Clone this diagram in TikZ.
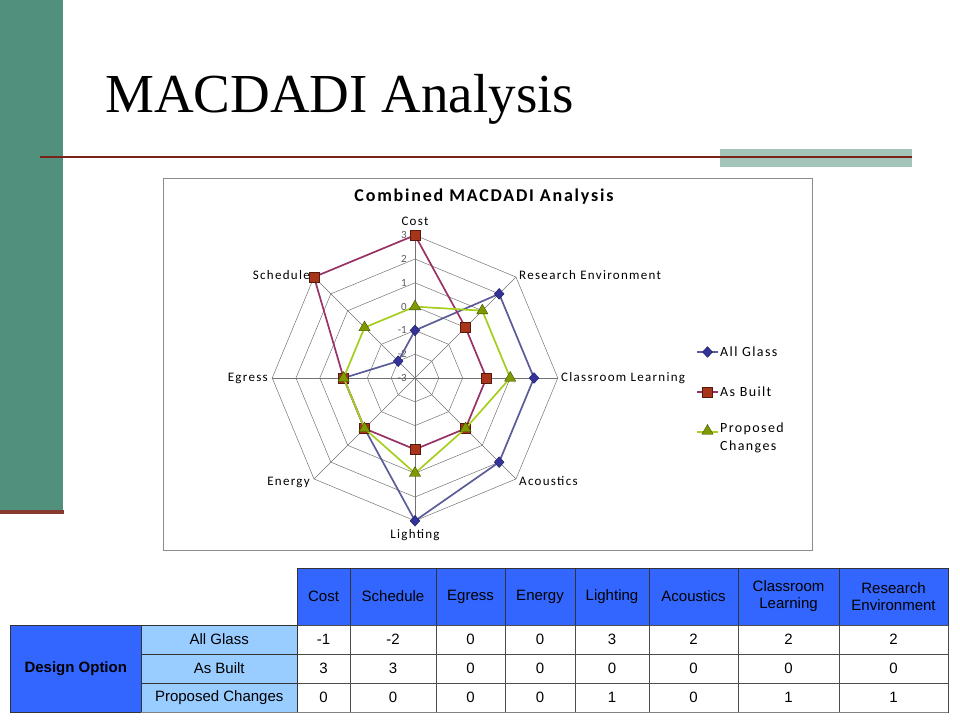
\documentclass[tikz,border=0pt]{standalone}
\usepackage{fontspec}
\setmainfont{Liberation Serif}
\newfontfamily\chartfont[LetterSpace=10]{Carlito}
\newfontfamily\tickfont{Carlito}
\newfontfamily\tablefont{Liberation Sans}
\usetikzlibrary{shapes.geometric}
\definecolor{barColor}{HTML}{52907E}
\definecolor{ruleColor}{HTML}{7B2318}
\definecolor{tabColor}{HTML}{A3C4B8}
\definecolor{headColor}{HTML}{3366FF}
\definecolor{rowColor}{HTML}{99CCFF}
\definecolor{glassLine}{HTML}{5C5C99}
\definecolor{glassMark}{HTML}{333399}
\definecolor{builtLine}{HTML}{993366}
\definecolor{builtMark}{HTML}{A8341A}
\definecolor{changeLine}{HTML}{A6CE1E}
\definecolor{changeMark}{HTML}{7F9A00}
\tikzstyle{headcell}=[rectangle, draw=black!80, fill=headColor, minimum height=57pt, inner sep=0pt, align=center, font=\tablefont\fontsize{15}{17}\selectfont]
\tikzstyle{rowcell}=[rectangle, draw=black!80, fill=rowColor, minimum width=155.5pt, minimum height=29pt, inner sep=0pt, font=\tablefont\fontsize{15}{17}\selectfont]
\tikzstyle{datacell}=[rectangle, draw=black!70, fill=white, minimum height=29pt, inner sep=0pt, font=\tablefont\fontsize{15}{17}\selectfont]
\tikzstyle{axislabel}=[inner sep=1pt, font=\chartfont\fontsize{13}{15}\selectfont]
\tikzstyle{ticklabel}=[anchor=east, inner sep=1pt, text=black!65, font=\tickfont\fontsize{11}{12}\selectfont]
\tikzstyle{gridline}=[draw=black!55, line width=0.5pt]
\tikzstyle{glass}=[draw=glassLine, line width=1.7pt, line join=round]
\tikzstyle{built}=[draw=builtLine, line width=1.7pt, line join=round]
\tikzstyle{change}=[draw=changeLine, line width=1.7pt, line join=round]
\tikzstyle{glassdot}=[diamond, fill=glassMark, draw=glassMark!60!black, inner sep=0pt, minimum width=10pt, minimum height=11pt]
\tikzstyle{builtdot}=[rectangle, fill=builtMark, draw=builtMark!50!black, inner sep=0pt, minimum size=10pt]
\tikzstyle{changedot}=[regular polygon, regular polygon sides=3, fill=changeMark, draw=changeMark!50!black, inner sep=0pt, minimum size=13pt]

\begin{document}
\begin{tikzpicture}[x=1pt, y=1pt]
	\useasboundingbox (0,0) rectangle (960,-720);
	
	% slide frame
	\fill[barColor] (0,0) rectangle (63,-511);
	\fill[ruleColor!90] (0,-510) rectangle (64,-514);
	\fill[tabColor] (720,-149) rectangle (912,-167);
	\draw[ruleColor, line width=2.4pt] (40,-157) -- (912,-157);
	\node (slide title) [anchor=base west, inner sep=0pt, font=\fontsize{55}{60}\selectfont] at (105,-112) {MACDADI Analysis};
	
	% chart
	\draw[black!45, line width=0.6pt] (163,-178) rectangle (812,-550);
	\node (chart title) [font=\chartfont\fontsize{18}{20}\bfseries] at (484,-197) {Combined MACDADI Analysis};
	\coordinate (centre) at (415,-378);
	
	\foreach \k in {1,...,6}
		\draw[gridline] (90:\k*23.8) ++(415,-378) \foreach \j in {1,...,7} {-- ([shift={(90+45*\j:\k*23.8)}]centre)} -- cycle;
	\foreach \j in {0,...,7}
		\draw[gridline] (centre) -- ([shift={(90+45*\j:142.8)}]centre);
	\foreach \t [count=\k from 0] in {-3,-2,-1,0,1,2,3}
		\node (tick\k) [ticklabel] at (408,-378+\k*23.8) {\t};
	
	\node (lab cost) [axislabel, anchor=south] at (415,-227) {Cost};
	\node (lab research) [axislabel, anchor=west] at (518,-275) {Research Environment};
	\node (lab classroom) [axislabel, anchor=west] at (560,-378) {Classroom Learning};
	\node (lab acoustics) [axislabel, anchor=west] at (518,-481) {Acoustics};
	\node (lab lighting) [axislabel, anchor=north] at (415,-528) {Lighting};
	\node (lab energy) [axislabel, anchor=east] at (311,-482) {Energy};
	\node (lab egress) [axislabel, anchor=east] at (269,-378) {Egress};
	\node (lab schedule) [axislabel, anchor=east] at (311,-275) {Schedule};
	
	% table and radar points from the same data
	\foreach \cx/\w/\lab/\a/\b/\p [count=\c] in {
		323.5/53/Cost/-1/3/0,
		393/86/Schedule/-2/3/0,
		470.5/69/Egress/0/0/0,
		540/70/Energy/0/0/0,
		612/74/Lighting/3/0/1,
		693.5/89/Acoustics/2/0/0,
		788.5/101/{Classroom\\Learning}/2/0/1,
		893.5/109/{Research\\Environment}/2/0/1}{
		\node (head\c) [headcell, minimum width=\w pt] at (\cx,-596.5) {\lab};
		\node (tab glass\c) [datacell, minimum width=\w pt] at (\cx,-639.5) {\a};
		\node (tab built\c) [datacell, minimum width=\w pt] at (\cx,-668.5) {\b};
		\node (tab change\c) [datacell, minimum width=\w pt] at (\cx,-697.5) {\p};
		\coordinate (glass\c) at ([shift={(45+45*\c:{(\a+3)*23.8})}]centre);
		\coordinate (built\c) at ([shift={(45+45*\c:{(\b+3)*23.8})}]centre);
		\coordinate (change\c) at ([shift={(45+45*\c:{(\p+3)*23.8})}]centre);
	}
	\node (row glass) [rowcell] at (219.25,-639.5) {All Glass};
	\node (row built) [rowcell] at (219.25,-668.5) {As Built};
	\node (row change) [rowcell] at (219.25,-697.5) {Proposed Changes};
	\node (design option) [rectangle, draw=black!80, fill=headColor, minimum width=131.5pt, minimum height=87pt, inner sep=0pt, font=\tablefont\fontsize{15}{17}\bfseries] at (75.75,-668.5) {Design Option};
	\draw[black!50, line width=1.2pt] (row change.south west) -- (tab change8.south east);
	
	% series
	\draw[glass] (glass1) -- (glass2) -- (glass3) -- (glass4) -- (glass5) -- (glass6) -- (glass7) -- (glass8) -- cycle;
	\foreach \c in {1,...,8}
		\node (glass dot\c) [glassdot] at (glass\c) {};
	\draw[built] (built1) -- (built2) -- (built3) -- (built4) -- (built5) -- (built6) -- (built7) -- (built8) -- cycle;
	\foreach \c in {1,...,8}
		\node (built dot\c) [builtdot] at (built\c) {};
	\draw[change] (change1) -- (change2) -- (change3) -- (change4) -- (change5) -- (change6) -- (change7) -- (change8) -- cycle;
	\foreach \c in {1,...,8}
		\node (change dot\c) [changedot] at (change\c) {};
	
	% legend
	\coordinate (key glass a) at (697,-352);
	\coordinate (key glass b) at (718,-352);
	\coordinate (key built a) at (697,-392);
	\coordinate (key built b) at (718,-392);
	\coordinate (key change a) at (697,-432);
	\coordinate (key change b) at (718,-432);
	\draw[glass] (key glass a) -- (key glass b);
	\node (key glass) [glassdot] at (707.5,-352) {};
	\node (key glass text) [anchor=west, inner sep=2pt, font=\chartfont\fontsize{14}{18}\selectfont] at (key glass b) {All Glass};
	\draw[built] (key built a) -- (key built b);
	\node (key built) [builtdot] at (707.5,-392) {};
	\node (key built text) [anchor=west, inner sep=2pt, font=\chartfont\fontsize{14}{18}\selectfont] at (key built b) {As Built};
	\draw[change] (key change a) -- (key change b);
	\node (key change) [changedot] at (707.5,-431) {};
	\node (key change text) [anchor=north west, inner sep=2pt, align=left, font=\chartfont\fontsize{14}{18}\selectfont] at (718,-421) {Proposed\\Changes};
	
\end{tikzpicture}
\end{document}
